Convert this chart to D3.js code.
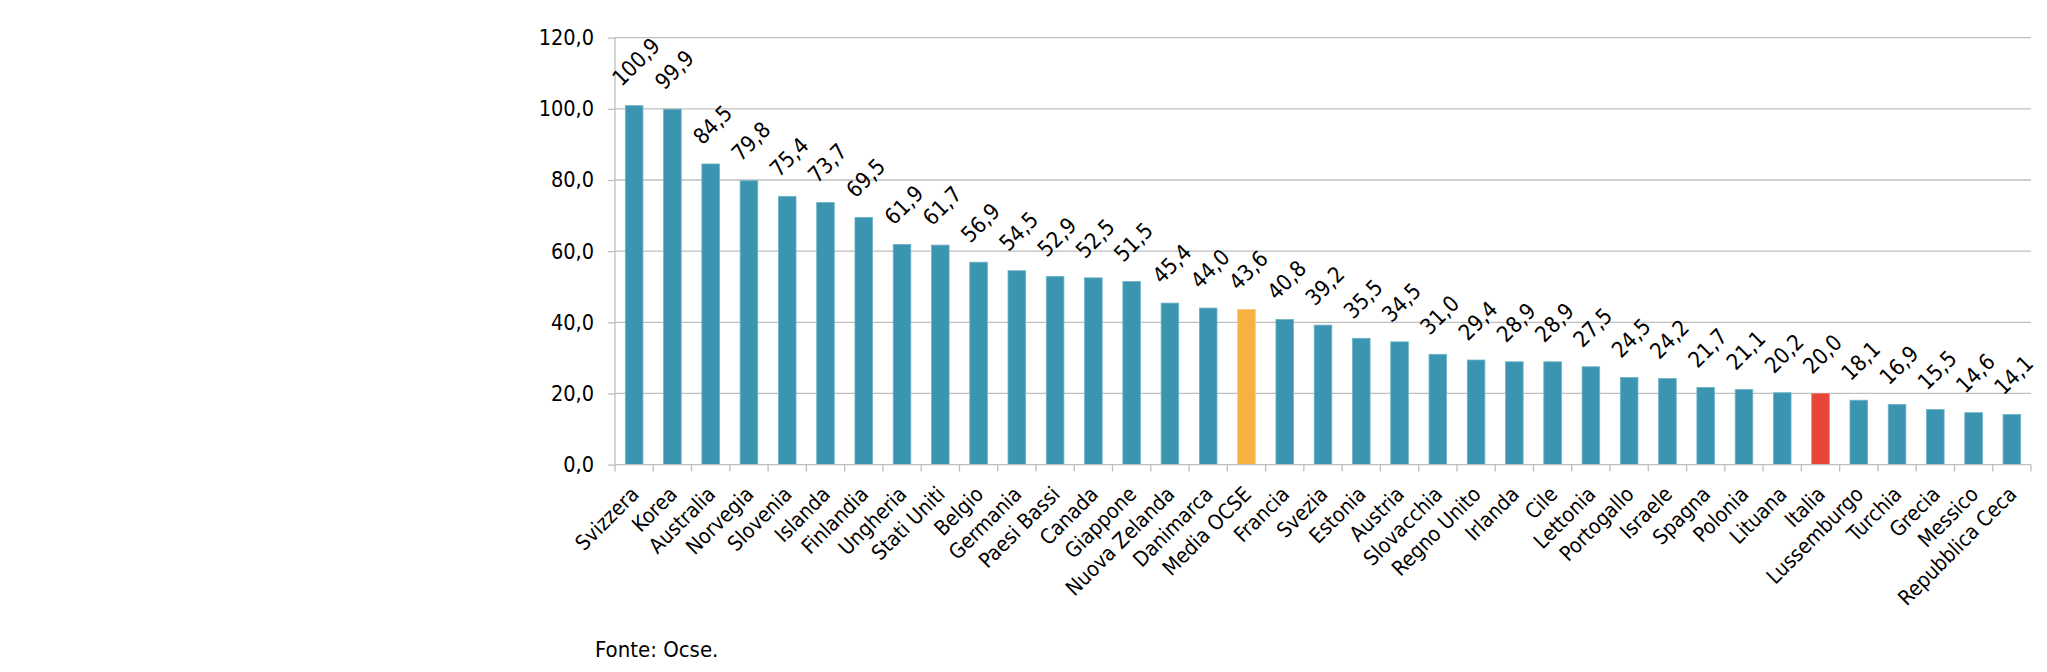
<!DOCTYPE html>
<html>
<head>
<meta charset="utf-8">
<script src="https://cdn.jsdelivr.net/npm/d3@7"></script>
<style>
  html, body { margin: 0; padding: 0; background: #fff; }
  svg text { font-family: "DejaVu Sans Condensed", "DejaVu Sans", Verdana, sans-serif; fill: #000; }
</style>
</head>
<body>
<svg id="chart" width="2047" height="672"></svg>
<script>
const categories = ["Svizzera","Korea","Australia","Norvegia","Slovenia","Islanda","Finlandia","Ungheria","Stati Uniti","Belgio","Germania","Paesi Bassi","Canada","Giappone","Nuova Zelanda","Danimarca","Media OCSE","Francia","Svezia","Estonia","Austria","Slovacchia","Regno Unito","Irlanda","Cile","Lettonia","Portogallo","Israele","Spagna","Polonia","Lituana","Italia","Lussemburgo","Turchia","Grecia","Messico","Repubblica Ceca"];
const values = [100.9,99.9,84.5,79.8,75.4,73.7,69.5,61.9,61.7,56.9,54.5,52.9,52.5,51.5,45.4,44.0,43.6,40.8,39.2,35.5,34.5,31.0,29.4,28.9,28.9,27.5,24.5,24.2,21.7,21.1,20.2,20.0,18.1,16.9,15.5,14.6,14.1];
const yTicks = [0,20,40,60,80,100,120];
const sourceNote = "Fonte: Ocse.";

const colorDefault = "#3b95b0";
const colorHighlight = { "Media OCSE": "#f6b142", "Italia": "#e84637" };
const strokeDefault = "#6fb3c8";
const strokeHighlight = { "Media OCSE": "#f9c873", "Italia": "#ef7a6e" };

const fmt = v => v.toFixed(1).replace(".", ",");

(function draw() {
const svg = d3.select("#chart");
const pLeft = 615, pRight = 2031, pTop = 37.7, pBottom = 464.6;
const FONT = '"DejaVu Sans Condensed", "DejaVu Sans", Verdana, sans-serif';

const x = d3.scaleBand().domain(categories).range([pLeft, pRight]).paddingInner(0.54).paddingOuter(0.27);
const y = d3.scaleLinear().domain([0, 120]).range([pBottom, pTop]);

const data = categories.map((c, i) => ({ c, v: values[i] }));

// gridlines
svg.append("g").selectAll("line").data(yTicks.filter(t => t > 0)).join("line")
  .attr("x1", pLeft).attr("x2", pRight)
  .attr("y1", d => y(d)).attr("y2", d => y(d))
  .attr("stroke", "#bfbfbf").attr("stroke-width", 1.3);

// bars
svg.append("g").selectAll("rect").data(data).join("rect")
  .attr("x", d => x(d.c))
  .attr("width", x.bandwidth())
  .attr("y", d => y(d.v))
  .attr("height", d => y(0) - y(d.v))
  .attr("fill", d => colorHighlight[d.c] || colorDefault)
  .attr("stroke", d => strokeHighlight[d.c] || strokeDefault)
  .attr("stroke-width", 0.8);

// y axis
const yAxis = d3.axisLeft(y).tickValues(yTicks).tickSize(7).tickPadding(14).tickFormat(fmt);
const gy = svg.append("g").attr("transform", `translate(${pLeft},0)`).call(yAxis);
gy.select(".domain").attr("stroke", "#bfbfbf").attr("stroke-width", 1.3).attr("d", `M0,${pTop}V${pBottom}`);
gy.selectAll(".tick line").attr("stroke", "#bfbfbf").attr("stroke-width", 1.3);
gy.selectAll(".tick text").style("font-size", "21.5px").style("font-family", FONT).attr("fill", "#000");

// x axis line and tick marks between categories
const gx = svg.append("g");
gx.append("line").attr("x1", pLeft).attr("x2", pRight).attr("y1", pBottom).attr("y2", pBottom)
  .attr("stroke", "#bfbfbf").attr("stroke-width", 1.3);
const boundaries = d3.range(categories.length + 1).map(i => pLeft + i * (pRight - pLeft) / categories.length);
gx.selectAll("line.tk").data(boundaries).join("line").attr("class", "tk")
  .attr("x1", d => d).attr("x2", d => d).attr("y1", pBottom).attr("y2", pBottom + 7)
  .attr("stroke", "#bfbfbf").attr("stroke-width", 1.3);

// category labels
svg.append("g").selectAll("text").data(data).join("text")
  .attr("text-anchor", "end")
  .attr("transform", d => `translate(${x(d.c) + x.bandwidth() / 2 + 6},${pBottom + 31}) rotate(-45)`)
  .style("font-size", "21px")
  .text(d => d.c);

// value labels
const vl = svg.append("g").selectAll("text").data(data).join("text")
  .attr("text-anchor", "middle")
  .attr("dominant-baseline", "central")
  .style("font-size", "22px")
  .text(d => fmt(d.v));
vl.attr("transform", function(d) {
  const L = this.getComputedTextLength();
  const h = 16;
  const half = (L + h) * Math.SQRT1_2 / 2;
  const cx = x(d.c) + x.bandwidth() / 2 + 2;
  const cy = y(d.v) - 18 - half;
  return `translate(${cx},${cy}) rotate(-45)`;
});

// source
svg.append("text").attr("x", 595).attr("y", 657).style("font-size", "22px").text(sourceNote);
})();
</script>
</body>
</html>
